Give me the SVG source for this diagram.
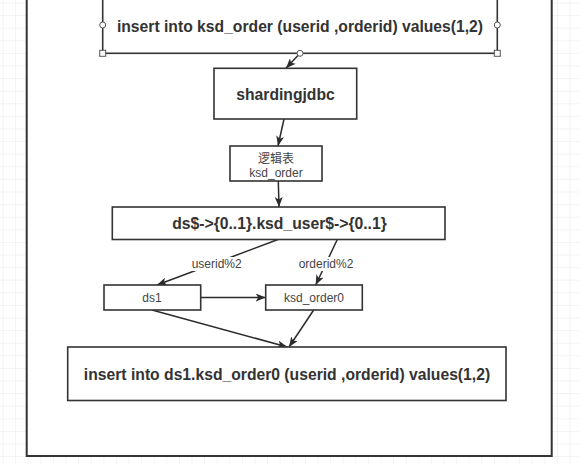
<svg xmlns="http://www.w3.org/2000/svg" width="580" height="464" viewBox="0 0 580 464">
<defs>
<pattern id="grid" x="2.5" y="2.5" width="12.6" height="12.6" patternUnits="userSpaceOnUse">
<path d="M0,0 H12.6 M0,0 V12.6" fill="none" stroke="#e8e8e8" stroke-width="1"/>
</pattern>
<marker id="arr" markerUnits="userSpaceOnUse" markerWidth="10" markerHeight="8" refX="10" refY="4" orient="auto">
<path d="M0,0 L10,4 L0,8 L2.5,4 z" fill="#2b2b2b"/>
</marker>
<style>
.box{fill:#fff;stroke:#333;stroke-width:1.6}
.big{font-family:"Liberation Sans",Arial,sans-serif;font-weight:bold;font-size:15.7px;fill:#333;text-anchor:middle}
.small{font-family:"Liberation Sans",Arial,"Noto Sans CJK SC",sans-serif;font-size:12px;fill:#444;text-anchor:middle}
.edge{fill:none;stroke:#2b2b2b;stroke-width:1.5;marker-end:url(#arr)}
.hc{fill:#fff;stroke:#555;stroke-width:1}
</style>
</defs>
<rect x="0" y="0" width="580" height="464" fill="#fff"/>
<rect x="0" y="0" width="580" height="464" fill="url(#grid)"/>
<rect id="frame" x="26.7" y="-6" width="525" height="462" fill="#fff" stroke="#333" stroke-width="2"/>

<g id="connectors">
<line class="edge" x1="300" y1="53.3" x2="286" y2="68.3"/>
<line class="edge" x1="284" y1="119" x2="278" y2="146"/>
<line class="edge" x1="278.3" y1="181" x2="279" y2="207"/>
<line class="edge" x1="278" y1="239.5" x2="157" y2="285"/>
<line class="edge" x1="337.3" y1="239.5" x2="315.7" y2="285"/>
<line class="edge" x1="200.7" y1="297.5" x2="265.7" y2="297.5"/>
<line class="edge" x1="152" y1="310" x2="287.3" y2="347"/>
<line class="edge" x1="313.7" y1="310" x2="289" y2="347"/>
<g id="label-userid">
<rect x="190" y="257" width="53" height="14" fill="#fff"/>
<text class="small" x="216.7" y="268">userid%2</text>
</g>
<g id="label-orderid">
<rect x="298" y="257" width="57" height="14" fill="#fff"/>
<text class="small" x="326" y="268">orderid%2</text>
</g>
</g>

<g id="node-insert">
<rect class="box" x="102.7" y="-3" width="394.6" height="56.3"/>
<text class="big" x="300" y="32">insert into ksd_order (userid ,orderid) values(1,2)</text>
<circle class="hc" cx="102.7" cy="25" r="3"/>
<circle class="hc" cx="497.3" cy="25" r="3"/>
<circle class="hc" cx="300" cy="53.3" r="3"/>
<rect class="hc" x="99.7" y="50.3" width="6" height="6"/>
<rect class="hc" x="494.3" y="50.3" width="6" height="6"/>
</g>

<g id="node-shardingjdbc">
<rect class="box" x="214" y="68.3" width="142.7" height="50.7"/>
<text class="big" x="285.5" y="100">shardingjdbc</text>
</g>

<g id="node-logic">
<rect class="box" x="230" y="146" width="92" height="35"/>
<text class="small" x="276" y="163">逻辑表</text>
<text class="small" x="276" y="176.5">ksd_order</text>
</g>

<g id="node-ds">
<rect class="box" x="112.3" y="207" width="332.7" height="32.5"/>
<text class="big" x="279.5" y="228.5">ds$-&gt;{0..1}.ksd_user$-&gt;{0..1}</text>
</g>

<g id="node-ds1">
<rect class="box" x="104" y="285" width="96.7" height="25"/>
<text class="small" x="152" y="301.5">ds1</text>
</g>

<g id="node-ksd_order0">
<rect class="box" x="265.7" y="285" width="96.6" height="25"/>
<text class="small" x="314" y="301.5">ksd_order0</text>
</g>

<g id="node-result">
<rect class="box" x="67.7" y="347" width="438.3" height="53.5"/>
<text class="big" x="287" y="379.5">insert into ds1.ksd_order0 (userid ,orderid) values(1,2)</text>
</g>
</svg>
